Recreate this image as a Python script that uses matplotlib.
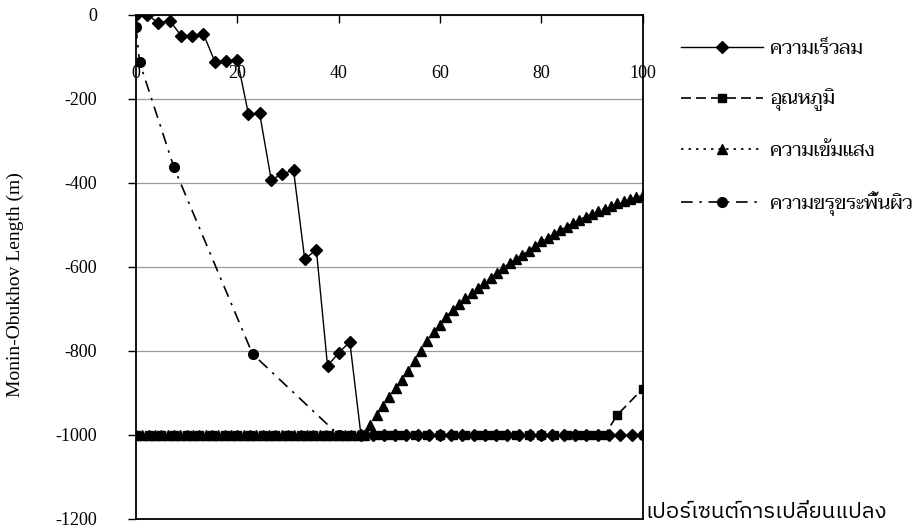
import matplotlib
matplotlib.use("Agg")
import matplotlib.pyplot as plt

# ---------------- data ----------------
wind_x = [0, 2.2, 4.4, 6.7, 8.9, 11.1, 13.3, 15.6, 17.8, 20, 22.2, 24.4, 26.7, 28.9,
          31.1, 33.3, 35.6, 37.8, 40, 42.2, 44.4, 46.7, 48.9, 51.1, 53.3, 55.6, 57.8,
          60, 62.2, 64.4, 66.7, 68.9, 71.1, 73.3, 75.6, 77.8, 80, 82.2, 84.4, 86.7,
          88.9, 91.1, 93.3, 95.6, 97.8, 100]
wind_y = [0, 0, -18, -14, -49, -49, -45, -112, -109, -107, -236, -234, -393, -378,
          -370, -581, -559, -835, -805, -778, -1000, -1000, -1000, -1000, -1000, -1000,
          -1000, -1000, -1000, -1000, -1000, -1000, -1000, -1000, -1000, -1000, -1000,
          -1000, -1000, -1000, -1000, -1000, -1000, -1000, -1000, -1000]

temp_x = [0, 2.5, 5, 7.5, 10, 12.5, 15, 17.5, 20, 22.5, 25, 27.5, 30, 32.5, 35, 37.5,
          40, 42.5, 45, 47.5, 50, 52.5, 55, 57.5, 60, 62.5, 65, 67.5, 70, 72.5, 75,
          77.5, 80, 82.5, 85, 87.5, 90, 92.5, 95, 100]
temp_y = [-1000, -1000, -1000, -1000, -1000, -1000, -1000, -1000, -1000, -1000,
          -1000, -1000, -1000, -1000, -1000, -1000, -1000, -1000, -1000, -1000,
          -1000, -1000, -1000, -1000, -1000, -1000, -1000, -1000, -1000, -1000,
          -1000, -1000, -1000, -1000, -1000, -1000, -1000, -1000, -952, -890]

light_x = [0, 1.25, 2.5, 3.75, 5, 6.25, 7.5, 8.75, 10, 11.25, 12.5, 13.75, 15, 16.25,
           17.5, 18.75, 20, 21.25, 22.5, 23.75, 25, 26.25, 27.5, 28.75, 30, 31.25, 32.5,
           33.75, 35, 36.25, 37.5, 38.75, 40, 41.25, 42.5, 43.75, 45, 46.25, 47.5, 48.75,
           50, 51.25, 52.5, 53.75, 55, 56.25, 57.5, 58.75, 60, 61.25, 62.5, 63.75, 65,
           66.25, 67.5, 68.75, 70, 71.25, 72.5, 73.75, 75, 76.25, 77.5, 78.75, 80, 81.25,
           82.5, 83.75, 85, 86.25, 87.5, 88.75, 90, 91.25, 92.5, 93.75, 95, 96.25, 97.5,
           98.75, 100]
light_y = [-1000, -1000, -1000, -1000, -1000, -1000, -1000, -1000, -1000, -1000,
           -1000, -1000, -1000, -1000, -1000, -1000, -1000, -1000, -1000, -1000,
           -1000, -1000, -1000, -1000, -1000, -1000, -1000, -1000, -1000, -1000,
           -1000, -1000, -1000, -1000, -1000, -1000, -1000,
           -977, -952, -930, -910, -889, -868, -847, -823, -800, -777, -755, -737,
           -719, -702, -688, -674, -662, -650, -639, -626, -614, -602, -591, -581,
           -572, -561, -550, -539, -530, -521, -512, -504, -496, -488, -480, -473,
           -467, -461, -455, -448, -442, -437, -433, -429]

rough_x = [0, 0.7, 7.5, 23, 40, 60, 80, 100]
rough_y = [-28, -112, -363, -807, -1000, -1000, -1000, -1000]

labels = ["ความเร็วลม", "อุณหภูมิ", "ความเข้มแสง", "ความขรุขระพื้นผิว"]
x_ticks = [0, 20, 40, 60, 80, 100]
y_ticks = [0, -200, -400, -600, -800, -1000, -1200]
y_label = "Monin-Obukhov Length (m)"
x_label = "เปอร์เซนต์การเปลี่ยนแปลง"

# ---------------- styling ----------------
serif = ["Liberation Serif", "DejaVu Serif"]
thai_legend = ["Taviraj", "Sarabun", "FreeSerif", "DejaVu Sans"]
thai_label = ["IBM Plex Sans Thai", "Bai Jamjuree", "FreeSans", "DejaVu Sans"]

fig = plt.figure(figsize=(9.23, 5.31), dpi=100)
ax = fig.add_axes([0.1473, 0.0226, 0.549, 0.9492])

ax.plot(wind_x, wind_y, color="black", lw=1.0, ls="-", marker="D", ms=6.5,
        label=labels[0], zorder=5)
ax.plot(temp_x, temp_y, color="black", lw=1.2, ls=(0, (6, 3)), marker="s", ms=6,
        label=labels[1], zorder=4)
ax.plot(light_x, light_y, color="black", lw=1.2, ls=(0, (1.5, 3)), marker="^", ms=7.5,
        label=labels[2], zorder=3)
ax.plot(rough_x, rough_y, color="black", lw=1.2, ls=(0, (7, 4, 1.5, 4)), marker="o",
        ms=7, label=labels[3], zorder=2)

ax.set_xlim(0, 100)
ax.set_ylim(-1200, 0)
ax.set_xticks(x_ticks)
ax.set_yticks(y_ticks)
ax.set_xticklabels([str(v) for v in x_ticks], fontfamily=serif, fontsize=13)
ax.set_yticklabels([str(v) for v in y_ticks], fontfamily=serif, fontsize=13)

ax.tick_params(axis="x", which="both", bottom=False, top=True, labelbottom=False,
               labeltop=True, direction="in", length=6, width=1, pad=-48)
ax.tick_params(axis="y", which="both", left=True, right=False, direction="out",
               length=6, width=1, pad=22)

ax.grid(axis="y", color="#9a9a9a", lw=0.9)
ax.set_axisbelow(True)
for s in ax.spines.values():
    s.set_color("black")
    s.set_linewidth(1.3)

ax.set_ylabel(y_label, fontfamily=serif, fontsize=14)
ax.yaxis.set_label_coords(-0.221, 0.465)

ax.text(1.005, -0.008, x_label, transform=ax.transAxes, ha="left", va="bottom",
        fontfamily=thai_label, fontsize=16)

leg = ax.legend(loc="upper left", bbox_to_anchor=(1.06, 0.965), frameon=False,
                prop={"family": thai_legend, "size": 14}, handlelength=4.2,
                labelspacing=1.58, handletextpad=0.4, borderaxespad=0)

fig.savefig("out.png", dpi=100)
